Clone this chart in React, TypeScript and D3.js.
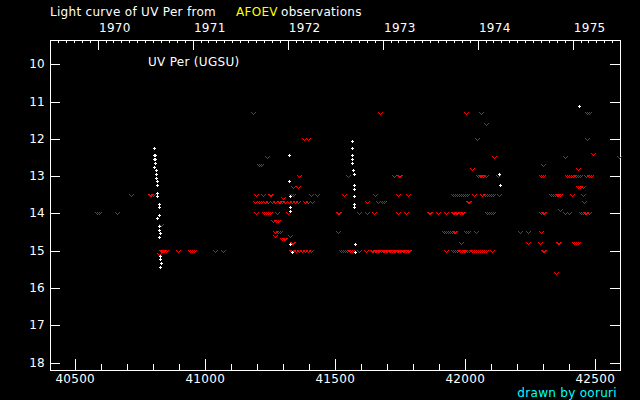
import React, { useRef, useEffect } from 'react';
import * as d3 from 'd3';

// JD - 2400000 and visual magnitude
const jdTicks = [40500, 40600, 40700, 40800, 40900, 41000, 41100, 41200, 41300, 41400, 41500, 41600, 41700, 41800, 41900, 42000, 42100, 42200, 42300, 42400, 42500];
const magTicks = [10, 11, 12, 13, 14, 15, 16, 17, 18];
const yearLabels = [1970, 1971, 1972, 1973, 1974, 1975];

// positive visual estimates (white +)
const visualObs: [number, number][] = [
  [40804, 12.24], [40804, 12.43], [40806, 12.43], [40804, 12.53], [40806, 12.53], [40806, 12.64], [40804, 12.75],
  [40810, 12.83], [40810, 12.94], [40810, 13.05], [40815, 13.13], [40815, 13.23], [40815, 13.45], [40815, 13.53],
  [40822, 13.75], [40822, 13.83], [40822, 14.04], [40815, 14.12], [40822, 14.34], [40822, 14.45], [40826, 14.53],
  [40822, 14.64], [40826, 15.15], [40826, 15.23], [40830, 15.34], [40826, 15.44],
  [41322, 12.43], [41322, 13.13], [41326, 13.53], [41326, 13.83], [41326, 13.94], [41326, 14.82], [41334, 15.04],
  [41564, 12.05], [41564, 12.24], [41564, 12.43], [41564, 12.53], [41566, 12.53], [41564, 12.64], [41568, 12.83],
  [41572, 12.94], [41572, 13.23], [41572, 13.34], [41572, 13.53], [41572, 13.75], [41572, 13.83], [41576, 14.82],
  [41576, 15.04],
  [42129, 12.94], [42132, 13.24], [42436, 11.13],
];

// "fainter than" estimates (red v)
const fainterThan: [number, number][] = [
  [40584, 14.0], [40592, 14.0], [40662, 14.0], [40715, 13.5], [40786, 13.5], [40792, 13.5], [40798, 13.5],
  [40831, 14.3], [40822, 15.1], [40829, 15.0], [40834, 15.0], [40838, 15.0], [40843, 15.0], [40848, 15.0],
  [40897, 15.0], [40943, 15.0], [40949, 15.0], [40955, 15.0], [41037, 15.0], [41068, 15.0],
  [41184, 11.3], [41380, 12.0], [41395, 12.0], [41238, 12.5], [41208, 12.7], [41214, 12.7], [41361, 13.0],
  [41337, 13.3], [41357, 13.3],
  [41195, 13.5], [41224, 13.5], [41249, 13.5], [41253, 13.5], [41330, 13.5], [41338, 13.5], [41408, 13.5], [41429, 13.5],
  [41299, 13.6],
  [41193, 13.7], [41206, 13.7], [41213, 13.7], [41216, 13.7], [41229, 13.7], [41242, 13.7], [41255, 13.7], [41267, 13.7],
  [41284, 13.7], [41287, 13.7], [41295, 13.7], [41308, 13.7], [41321, 13.7], [41334, 13.7], [41347, 13.7], [41357, 13.7],
  [41382, 13.7], [41395, 13.7], [41410, 13.7],
  [41195, 14.0], [41226, 14.0], [41234, 14.0], [41241, 14.0], [41249, 14.0], [41276, 14.0], [41318, 14.0],
  [41262, 14.2], [41271, 14.2], [41281, 14.2],
  [41270, 14.5], [41278, 14.5], [41287, 14.5], [41267, 14.6], [41326, 14.6],
  [41296, 14.7], [41302, 14.7], [41308, 14.7], [41334, 14.8], [41338, 14.8],
  [41330, 15.0], [41333, 15.0], [41338, 15.0], [41350, 15.0], [41360, 15.0], [41372, 15.0], [41384, 15.0], [41395, 15.0], [41407, 15.0],
  [41510, 14.0], [41516, 14.0], [41512, 14.5], [41535, 13.5], [41549, 13.0],
  [41522, 15.0], [41530, 15.0], [41538, 15.0], [41546, 15.0], [41556, 15.0], [41566, 15.0], [41591, 15.0], [41620, 15.0],
  [41640, 15.0], [41646, 15.0], [41652, 15.0], [41658, 15.0], [41664, 15.0], [41670, 15.0], [41676, 15.0], [41682, 15.0],
  [41688, 15.0], [41694, 15.0], [41700, 15.0], [41706, 15.0], [41712, 15.0], [41718, 15.0], [41724, 15.0], [41730, 15.0],
  [41736, 15.0], [41742, 15.0], [41748, 15.0], [41754, 15.0], [41760, 15.0], [41766, 15.0], [41772, 15.0], [41778, 15.0],
  [41784, 15.0],
  [41672, 11.3], [41725, 13.0], [41744, 13.0], [41750, 13.0], [41652, 13.5], [41741, 13.5], [41779, 13.5],
  [41622, 13.7], [41664, 13.7], [41680, 13.7], [41686, 13.7],
  [41591, 14.0], [41622, 14.0], [41649, 14.0], [41743, 14.0], [41771, 14.0],
  [41859, 14.0], [41865, 14.0], [41894, 14.0], [41925, 14.0], [41952, 14.0], [41958, 14.0], [41964, 14.0], [41970, 14.0],
  [41978, 14.0], [41986, 14.0], [41992, 14.0],
  [41952, 13.5], [41960, 13.5], [41968, 13.5], [41976, 13.5], [41984, 13.5], [41992, 13.5], [42000, 13.5], [42008, 13.5],
  [42033, 13.5], [42066, 13.5], [42074, 13.5], [42082, 13.5], [42090, 13.5], [42098, 13.5], [42106, 13.5], [42128, 13.5],
  [41920, 14.5], [41926, 14.5], [41932, 14.5], [41940, 14.5], [41948, 14.5], [41955, 14.5], [41962, 14.5], [42004, 14.5],
  [42010, 14.5], [42040, 14.5],
  [41925, 15.0], [41952, 15.0], [41962, 15.0], [41970, 15.0], [41978, 15.0], [41986, 15.0], [41994, 15.0], [42000, 15.0],
  [42008, 15.0], [42016, 15.0], [42024, 15.0], [42032, 15.0], [42040, 15.0], [42048, 15.0], [42056, 15.0], [42064, 15.0],
  [42072, 15.0], [42080, 15.0], [42103, 15.0],
  [41983, 14.8], [42002, 11.3], [42060, 11.3], [42079, 11.6], [42044, 12.0], [42109, 12.5], [42025, 12.8],
  [42050, 13.0], [42056, 13.0], [42062, 13.0], [42070, 13.0], [42078, 13.0], [42125, 13.0],
  [42010, 13.7], [42016, 13.7], [42084, 14.0], [42092, 14.0], [42100, 14.0], [42106, 14.0],
  [42298, 12.7], [42292, 13.0], [42298, 13.0], [42291, 14.0], [42297, 14.0], [42212, 14.5], [42240, 14.5], [42292, 14.5],
  [42240, 14.8], [42286, 14.8], [42298, 15.0], [42304, 15.0],
  [42382, 12.5], [42432, 12.8], [42470, 12.0], [42490, 12.4], [42468, 11.3], [42474, 11.3], [42593, 12.5],
  [42392, 13.0], [42400, 13.0], [42408, 13.0], [42416, 13.0], [42424, 13.0], [42432, 13.0], [42440, 13.0],
  [42466, 13.0], [42474, 13.0], [42482, 13.0],
  [42432, 13.3], [42440, 13.3], [42452, 13.3],
  [42330, 13.5], [42337, 13.5], [42344, 13.5], [42351, 13.5], [42358, 13.5], [42365, 13.5], [42409, 13.5], [42451, 13.5],
  [42455, 13.7], [42363, 13.9],
  [42304, 14.0], [42382, 14.0], [42397, 14.0], [42445, 14.0], [42452, 14.0], [42459, 14.0], [42466, 14.0], [42474, 14.0],
  [42356, 14.8], [42362, 14.8], [42418, 14.8], [42426, 14.8], [42434, 14.8], [42350, 15.6],
];

const jdToDate = (jd: number) => new Date((jd - 40587.5) * 86400000);

const App = () => {
  const svgRef = useRef<SVGSVGElement>(null);

  useEffect(() => {
    const width = 640;
    const height = 400;
    const box = { left: 50, right: 620, top: 40, bottom: 370 };
    const font = "'DejaVu Sans', sans-serif";

    const svg = d3.select(svgRef.current);
    svg.selectAll('*').remove();
    svg.attr('width', width).attr('height', height);

    svg.append('rect').attr('width', width).attr('height', height).attr('fill', '#000');

    const x = d3.scaleLinear().domain([40403, 42595]).range([box.left, box.right]);
    const y = d3.scaleLinear().domain([9.35, 18.2]).range([box.top, box.bottom]);
    const xTime = d3.scaleUtc().domain([jdToDate(40403), jdToDate(42595)]).range([box.left, box.right]);
    const px = (v: number) => Math.round(v) + 0.5;

    const g = svg.append('g').attr('shape-rendering', 'crispEdges').attr('stroke', '#fff').attr('stroke-width', 1);

    // frame
    g.append('rect')
      .attr('x', box.left + 0.5).attr('y', box.top + 0.5)
      .attr('width', box.right - box.left).attr('height', box.bottom - box.top)
      .attr('fill', 'none');

    // bottom JD ticks
    jdTicks.forEach((t) => {
      const major = t % 500 === 0;
      g.append('line')
        .attr('x1', px(x(t))).attr('x2', px(x(t)))
        .attr('y1', box.bottom).attr('y2', box.bottom - (major ? 11 : 6));
    });

    // magnitude ticks, both sides
    magTicks.forEach((m) => {
      g.append('line').attr('x1', box.left).attr('x2', box.left + 10).attr('y1', px(y(m))).attr('y2', px(y(m)));
      g.append('line').attr('x1', box.right - 10).attr('x2', box.right).attr('y1', px(y(m))).attr('y2', px(y(m)));
    });

    // top calendar ticks: months and years
    const months = d3.utcMonth.range(xTime.domain()[0], xTime.domain()[1]);
    months.forEach((d) => {
      const yearTick = d.getUTCMonth() === 0;
      g.append('line')
        .attr('x1', px(xTime(d))).attr('x2', px(xTime(d)))
        .attr('y1', box.top).attr('y2', box.top + (yearTick ? 10 : 3));
    });

    const txt = svg.append('g')
      .attr('font-family', font).attr('font-size', 12).attr('letter-spacing', 0.3)
      .attr('fill', '#fff');

    txt.selectAll('.year').data(yearLabels).join('text')
      .attr('x', (yr) => xTime(new Date(Date.UTC(yr, 0, 1))) + 1)
      .attr('y', 32)
      .text((yr) => yr);

    txt.selectAll('.jd').data(jdTicks.filter((t) => t % 500 === 0)).join('text')
      .attr('x', (t) => x(t)).attr('y', 383).attr('text-anchor', 'middle')
      .text((t) => t);

    txt.selectAll('.mag').data(magTicks).join('text')
      .attr('x', 45).attr('y', (m) => y(m) + 4).attr('text-anchor', 'end')
      .text((m) => m);

    txt.append('text').attr('x', 50).attr('y', 16).text('Light curve of UV Per from');
    txt.append('text').attr('x', 236).attr('y', 16).attr('fill', '#ffff00').text('AFOEV');
    txt.append('text').attr('x', 281).attr('y', 16).text('observations');
    txt.append('text').attr('x', 148).attr('y', 66).text('UV Per (UGSU)');
    txt.append('text').attr('x', 617).attr('y', 397).attr('text-anchor', 'end').attr('fill', '#00ffff').text('drawn by ooruri');

    // pixel glyphs
    const pix = (cx: number, cy: number, offs: number[][]) =>
      offs.map(([dx, dy]) => `M${cx + dx},${cy + dy}h1v1h-1z`).join('');
    const vGlyph = [[-2, -1], [2, -1], [-1, 0], [1, 0], [0, 1]];
    const plusGlyph = [[0, -1], [-1, 0], [0, 0], [1, 0], [0, 1]];

    svg.append('path')
      .attr('fill', '#ff0000')
      .attr('shape-rendering', 'crispEdges')
      .attr('d', fainterThan.map(([jd, m]) => pix(Math.round(x(jd)), Math.round(y(m)), vGlyph)).join(''));

    svg.append('path')
      .attr('fill', '#ffffff')
      .attr('shape-rendering', 'crispEdges')
      .attr('d', visualObs.map(([jd, m]) => pix(Math.round(x(jd)), Math.round(y(m)), plusGlyph)).join(''));
  }, []);

  return <svg ref={svgRef} style={{ position: 'absolute', left: 0, top: 0, display: 'block' }}></svg>;
};

export default App;
